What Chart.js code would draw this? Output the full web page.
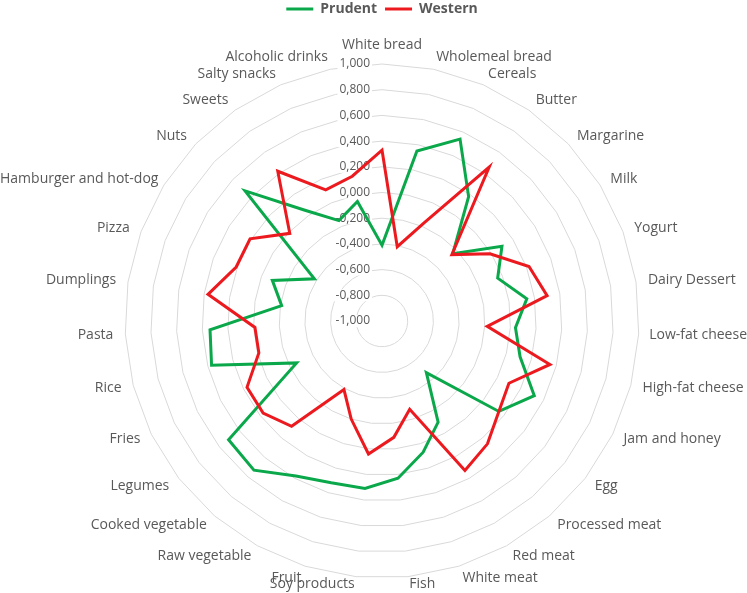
<!DOCTYPE html>
<html>
<head>
<meta charset="utf-8">
<script src="https://cdn.jsdelivr.net/npm/chart.js@4"></script>
<style>
  body { margin: 0; background: #fff; }
  canvas { display: block; }
</style>
</head>
<body>
<canvas id="myChart" width="747" height="593"></canvas>
<script>
// food groups, clockwise from the top
const categories = ['White bread', 'Wholemeal bread', 'Cereals', 'Butter', 'Margarine', 'Milk', 'Yogurt',
    'Dairy Dessert', 'Low-fat cheese', 'High-fat cheese', 'Jam and honey', 'Egg', 'Processed meat',
    'Red meat', 'White meat', 'Fish', 'Soy products', 'Fruit', 'Raw vegetable', 'Cooked vegetable',
    'Legumes', 'Fries', 'Rice', 'Pasta', 'Dumplings', 'Pizza', 'Hamburger and hot-dog', 'Nuts',
    'Sweets', 'Salty snacks', 'Alcoholic drinks'];

const prudent = [-0.41, 0.35, 0.54, 0.18, -0.24, 0.10, -0.04, 0.14, 0.04, 0.11, 0.32, 0.15, -0.47,
    -0.10, 0.07, 0.23, 0.31, 0.32, 0.38, 0.53, 0.51, -0.26, 0.37, 0.34, -0.21, -0.09, -0.38, 0.47,
    0.05, -0.15, -0.05];

const western = [0.33, -0.41, -0.17, 0.46, -0.25, -0.01, 0.22, 0.30, -0.18, 0.35, 0.10, 0.15, 0.26,
    0.33, -0.28, -0.09, 0.04, -0.20, -0.39, 0.08, 0.17, 0.17, -0.01, -0.01, 0.37, 0.21, 0.21, -0.01,
    0.42, 0.11, 0.15];

// axis labels, from the centre outwards
const tickLabels = ['-1,000', '-0,800', '-0,600', '-0,400', '-0,200', '0,000',
    '0,200', '0,400', '0,600', '0,800', '1,000'];

const textColor = '#595959';

// tick labels left of the axis and the category names, placed Excel-style
const excelLabels = {
    id: 'excelLabels',
    beforeDatasetsDraw(chart) {
        const scale = chart.scales.r;
        const ctx = chart.ctx;
        ctx.save();
        ctx.font = '12px "Open Sans"';
        ctx.textAlign = 'right';
        ctx.textBaseline = 'middle';
        scale.ticks.forEach((tick, i) => {
            const y = scale.yCenter - scale.getDistanceFromCenterForValue(tick.value);
            const x = scale.xCenter - 12;
            const txt = tickLabels[i];
            const w = ctx.measureText(txt).width;
            ctx.fillStyle = '#ffffff';
            ctx.fillRect(x - w - 2, y - 6, w + 4, 12);
            ctx.fillStyle = textColor;
            ctx.fillText(txt, x, y);
        });
        ctx.restore();
    },
    afterDraw(chart) {
        const scale = chart.scales.r;
        const ctx = chart.ctx;
        ctx.save();
        ctx.font = '14px "Open Sans"';
        ctx.fillStyle = textColor;
        ctx.textBaseline = 'middle';
        categories.forEach((name, i) => {
            const p = scale.getPointPosition(i, scale.drawingArea + 12);
            const deg = (scale.getIndexAngle(i) * 180 / Math.PI) % 360;
            let align = 'center';
            let x = p.x;
            let y = p.y;
            if (deg < 1 || deg > 359) {
                y -= 7;
            } else if (Math.abs(deg - 180) < 1) {
                y += 7;
            } else {
                align = deg < 180 ? 'left' : 'right';
            }
            const w = ctx.measureText(name).width;
            // keep inside the picture
            if (align === 'right' && x - w < 0) x = w;
            if (align === 'left' && x + w > chart.width) x = chart.width - w;
            if (y > chart.height - 9) y = chart.height - 9;
            ctx.textAlign = align;
            ctx.fillText(name, x, y);
        });
        ctx.restore();
    }
};

const ctx = document.getElementById('myChart').getContext('2d');

const myChart = new Chart(ctx, {
    type: 'radar',
    data: {
        labels: categories,
        datasets: [{
            label: 'Prudent',
            data: prudent,
            borderColor: '#0AA84A',
            backgroundColor: '#0AA84A',
            borderWidth: 3,
            fill: false,
            order: 1
        }, {
            label: 'Western',
            data: western,
            borderColor: '#EC1A1F',
            backgroundColor: '#EC1A1F',
            borderWidth: 3,
            fill: false,
            order: 0 // drawn on top
        }]
    },
    options: {
        responsive: false,
        animation: false,
        devicePixelRatio: 1,
        layout: {
            padding: { top: -6, bottom: 0, left: 125, right: 108 }
        },
        elements: {
            point: { radius: 0, hoverRadius: 0 },
            line: { tension: 0, borderJoinStyle: 'miter' }
        },
        scales: {
            r: {
                min: -1,
                max: 1,
                beginAtZero: false,
                ticks: { stepSize: 0.2, display: false },
                grid: { color: '#d9d9d9', lineWidth: 1 },
                angleLines: { display: false },
                pointLabels: { display: false }
            }
        },
        plugins: {
            legend: {
                position: 'top',
                labels: {
                    usePointStyle: true,
                    pointStyle: 'line',
                    pointStyleWidth: 27,
                    padding: 8,
                    color: textColor,
                    font: { family: 'Open Sans', size: 14, weight: 'bold' },
                    sort: (a, b) => a.datasetIndex - b.datasetIndex
                }
            },
            // empty subtitle under the legend, only to leave room above the plot
            subtitle: {
                display: true,
                text: '',
                weight: 500,
                font: { size: 10 },
                padding: { top: 6, bottom: 6 }
            },
            tooltip: { enabled: false }
        }
    },
    plugins: [excelLabels]
});
</script>
</body>
</html>
